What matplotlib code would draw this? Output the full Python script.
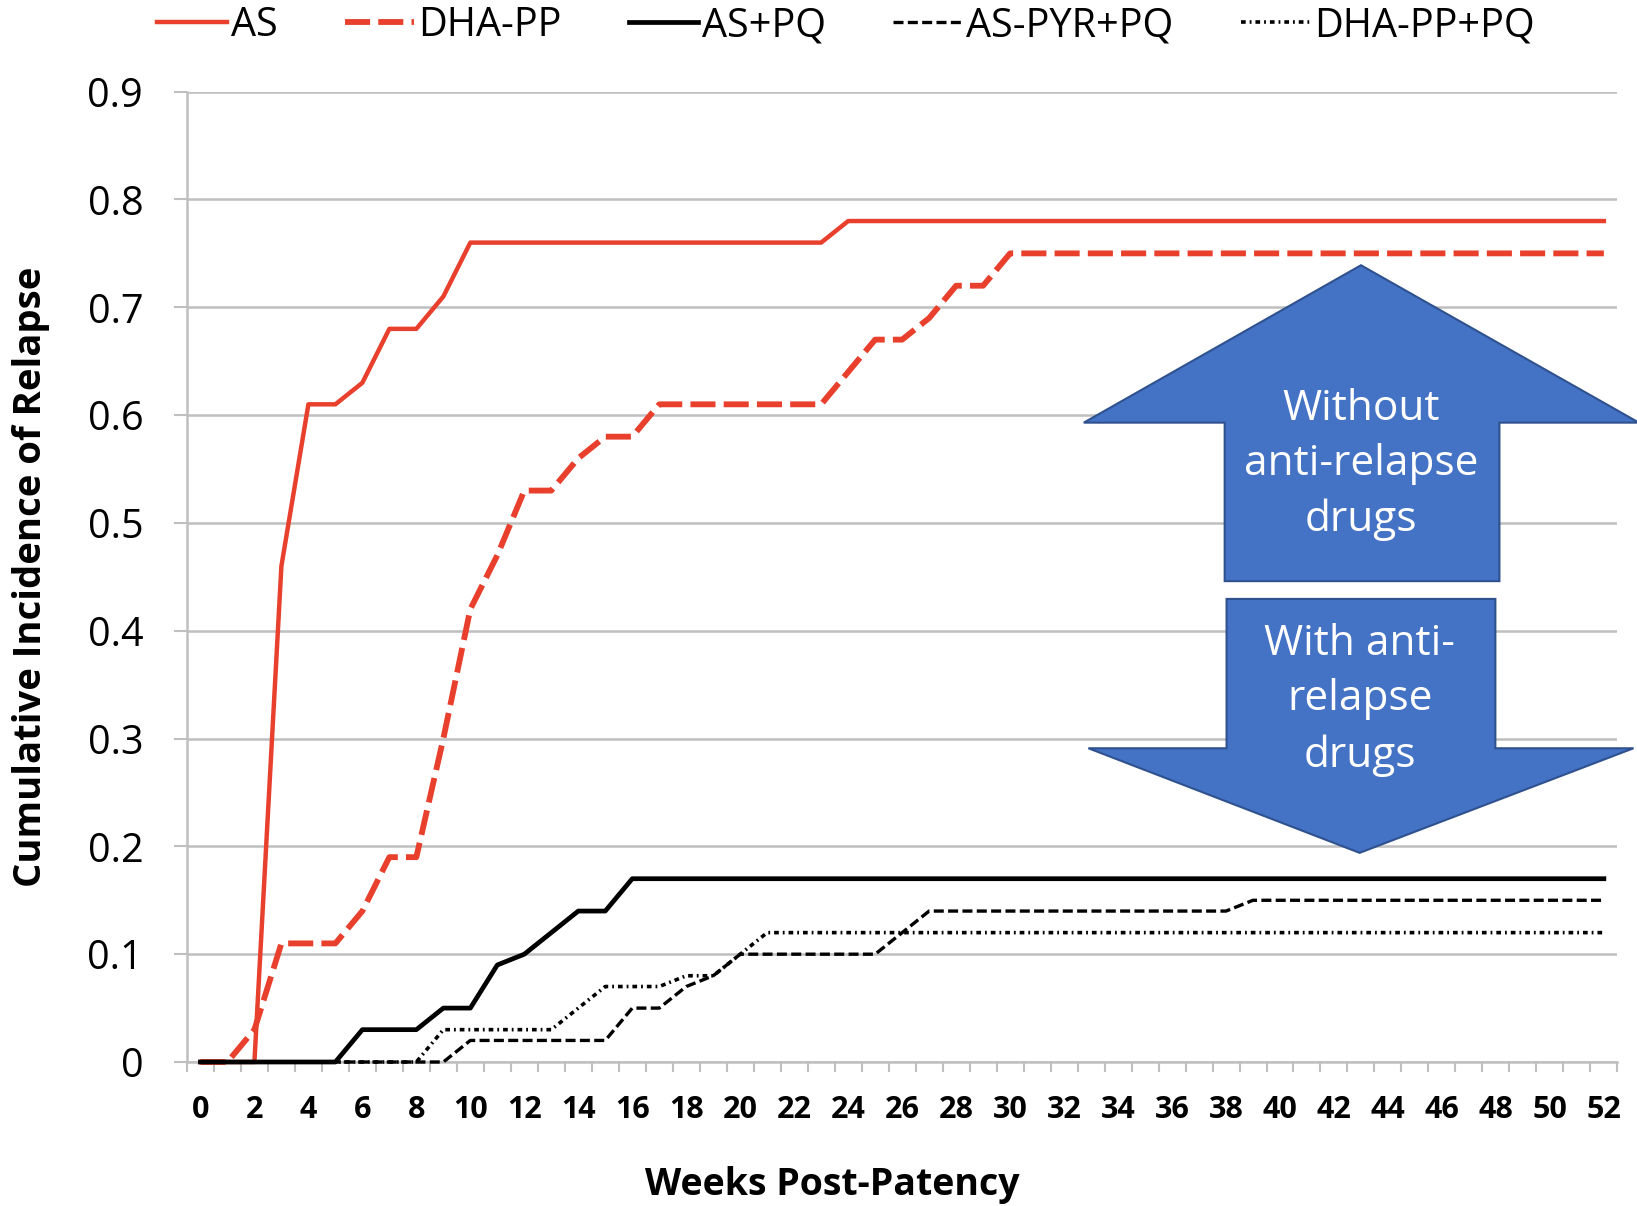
import numpy as np
import matplotlib
matplotlib.use('Agg')
import matplotlib.pyplot as plt
from matplotlib.patches import Polygon

plt.rcParams['font.family'] = ['Open Sans', 'DejaVu Sans']

# weeks post-patency 0..52
weeks = np.arange(0, 53)

# cumulative incidence of relapse (one value per week)
as_vals = [0, 0, 0, 0.46, 0.61, 0.61, 0.63, 0.68, 0.68, 0.71,
           0.76, 0.76, 0.76, 0.76, 0.76, 0.76, 0.76, 0.76, 0.76, 0.76,
           0.76, 0.76, 0.76, 0.76, 0.78, 0.78, 0.78, 0.78, 0.78, 0.78,
           0.78, 0.78, 0.78, 0.78, 0.78, 0.78, 0.78, 0.78, 0.78, 0.78,
           0.78, 0.78, 0.78, 0.78, 0.78, 0.78, 0.78, 0.78, 0.78, 0.78,
           0.78, 0.78, 0.78]
dha_pp = [0, 0, 0.03, 0.11, 0.11, 0.11, 0.14, 0.19, 0.19, 0.30,
          0.42, 0.47, 0.53, 0.53, 0.56, 0.58, 0.58, 0.61, 0.61, 0.61,
          0.61, 0.61, 0.61, 0.61, 0.64, 0.67, 0.67, 0.69, 0.72, 0.72,
          0.75, 0.75, 0.75, 0.75, 0.75, 0.75, 0.75, 0.75, 0.75, 0.75,
          0.75, 0.75, 0.75, 0.75, 0.75, 0.75, 0.75, 0.75, 0.75, 0.75,
          0.75, 0.75, 0.75]
as_pq = [0, 0, 0, 0, 0, 0, 0.03, 0.03, 0.03, 0.05,
         0.05, 0.09, 0.10, 0.12, 0.14, 0.14, 0.17, 0.17, 0.17, 0.17,
         0.17, 0.17, 0.17, 0.17, 0.17, 0.17, 0.17, 0.17, 0.17, 0.17,
         0.17, 0.17, 0.17, 0.17, 0.17, 0.17, 0.17, 0.17, 0.17, 0.17,
         0.17, 0.17, 0.17, 0.17, 0.17, 0.17, 0.17, 0.17, 0.17, 0.17,
         0.17, 0.17, 0.17]
as_pyr_pq = [0, 0, 0, 0, 0, 0, 0, 0, 0, 0,
             0.02, 0.02, 0.02, 0.02, 0.02, 0.02, 0.05, 0.05, 0.07, 0.08,
             0.10, 0.10, 0.10, 0.10, 0.10, 0.10, 0.12, 0.14, 0.14, 0.14,
             0.14, 0.14, 0.14, 0.14, 0.14, 0.14, 0.14, 0.14, 0.14, 0.15,
             0.15, 0.15, 0.15, 0.15, 0.15, 0.15, 0.15, 0.15, 0.15, 0.15,
             0.15, 0.15, 0.15]
dha_pp_pq = [0, 0, 0, 0, 0, 0, 0, 0, 0, 0.03,
             0.03, 0.03, 0.03, 0.03, 0.05, 0.07, 0.07, 0.07, 0.08, 0.08,
             0.10, 0.12, 0.12, 0.12, 0.12, 0.12, 0.12, 0.12, 0.12, 0.12,
             0.12, 0.12, 0.12, 0.12, 0.12, 0.12, 0.12, 0.12, 0.12, 0.12,
             0.12, 0.12, 0.12, 0.12, 0.12, 0.12, 0.12, 0.12, 0.12, 0.12,
             0.12, 0.12, 0.12]

y_ticks = [0, 0.1, 0.2, 0.3, 0.4, 0.5, 0.6, 0.7, 0.8, 0.9]
y_tick_labels = ['0', '0.1', '0.2', '0.3', '0.4', '0.5', '0.6', '0.7', '0.8', '0.9']

red = '#E8402D'
grid_c = '#BFBFBF'

fig = plt.figure(figsize=(16.37, 12.06), dpi=100)
ax = fig.add_axes([0.1142, 0.1194, 0.8738, 0.8046])

ax.plot(weeks, as_vals, color=red, lw=3.2, label='AS', clip_on=False, zorder=4)
ax.plot(weeks, dha_pp, color=red, lw=4.2, dashes=(4.3, 1.4), label='DHA-PP', clip_on=False, zorder=4)
ax.plot(weeks, as_pq, color='black', lw=3.4, label='AS+PQ', clip_on=False, zorder=5)
ax.plot(weeks, as_pyr_pq, color='black', lw=2.4, dashes=(3.0, 1.3), label='AS-PYR+PQ', clip_on=False, zorder=5)
ax.plot(weeks, dha_pp_pq, color='black', lw=2.6, dashes=(1.3, 1.1, 0.5, 1.1), label='DHA-PP+PQ', clip_on=False, zorder=5)

ax.set_xlim(-0.5, 52.5)
ax.set_ylim(0, 0.9)

ax.set_xticks(weeks[::2])
ax.set_xticklabels([str(w) for w in weeks[::2]], fontsize=22, fontweight='bold')
ax.set_xticks(np.arange(-0.5, 53, 1), minor=True)
ax.tick_params(axis='x', which='major', length=0, pad=24)
ax.tick_params(axis='x', which='minor', length=7.5, width=1.5, color=grid_c)
ax.set_yticks(y_ticks)
ax.set_yticklabels(y_tick_labels, fontsize=28.5)
ax.tick_params(axis='y', length=9.5, width=1.5, color=grid_c, pad=22)

ax.grid(axis='y', color=grid_c, lw=1.8)
ax.set_axisbelow(True)
for s in ['top', 'right']:
    ax.spines[s].set_visible(False)
for s in ['left', 'bottom']:
    ax.spines[s].set_color(grid_c)
    ax.spines[s].set_linewidth(1.8)

ax.set_xlabel('Weeks Post-Patency', fontsize=27, fontweight='bold')
ax.xaxis.set_label_coords(0.451, -0.127)
ax.xaxis.label.set_va('center')
ax.set_ylabel('Cumulative Incidence of Relapse', fontsize=27.5, fontweight='bold')
ax.yaxis.set_label_coords(-0.109, 0.5)
ax.yaxis.label.set_va('center')

# block arrows
up = [(43.0, 0.739), (53.3, 0.593), (48.13, 0.593), (48.13, 0.446),
      (37.95, 0.446), (37.95, 0.593), (32.73, 0.593)]
down = [(38.02, 0.4295), (47.98, 0.4295), (47.98, 0.291), (53.1, 0.291),
        (42.95, 0.194), (32.9, 0.291), (38.02, 0.291)]
for pts in [up, down]:
    ax.add_patch(Polygon(pts, closed=True, facecolor='#4472C4', edgecolor='#2F528F',
                         lw=1.5, clip_on=False, zorder=3))
ax.text(43.0, 0.554, 'Without\nanti-relapse\ndrugs', ha='center', va='center',
        color='white', fontsize=30.5, linespacing=1.42, zorder=6)
ax.text(42.95, 0.336, 'With anti-\nrelapse\ndrugs', ha='center', va='center',
        color='white', fontsize=30.5, linespacing=1.42, zorder=6)

fig.legend(loc='center', bbox_to_anchor=(846 / 1637, 1 - 26 / 1206), ncol=5,
           frameon=False, fontsize=28.5, handlelength=1.75, handletextpad=0.1,
           columnspacing=1.7, borderpad=0, borderaxespad=0)

fig.savefig('out.png', dpi=100)
